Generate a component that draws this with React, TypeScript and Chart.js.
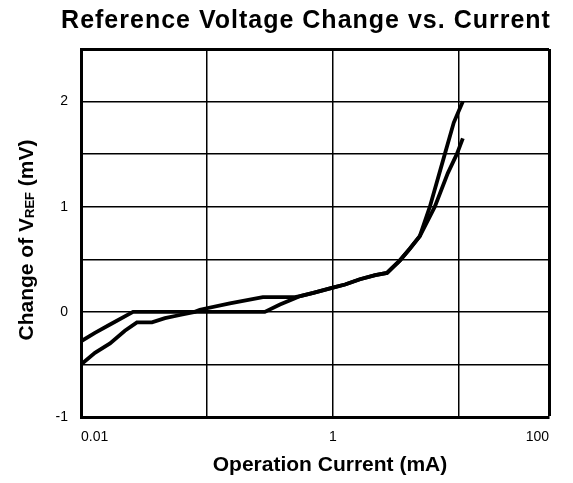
import React, { useEffect, useRef } from 'react';
import { Chart, registerables } from 'chart.js';

Chart.register(...registerables);

const FONT = "'Liberation Sans', Arial, Helvetica, sans-serif";

const chartTitle = 'Reference Voltage Change vs. Current';
const xTitle = 'Operation Current (mA)';
const yTitleMain = 'Change of V';
const yTitleSub = 'REF';
const yTitleUnit = ' (mV)';

// x axis (operation current, mA, log scale)
const xMin = 0.01;
const xMax = 52;
const xTickValues = [0.01, 0.1, 1, 10, 52];
const xTickLabels = ['0.01', '', '1', '', '100'];

// y axis (change of VREF, mV)
const yMin = -1;
const yMax = 2.5;
const yStep = 0.5;
const yTickLabels: Record<string, string> = { '-1': '-1', '0': '0', '1': '1', '2': '2' };

// sweep 1
const currentA = [0.01, 0.0129, 0.017, 0.0259, 0.05, 0.1, 0.2, 0.288, 0.38, 0.5, 0.55, 0.7, 1.0, 1.25, 1.64, 2.17, 2.69, 3.41, 4.08, 4.9, 6.45, 8.18, 9.64, 10.76];
const deltaA = [-0.28, -0.2, -0.12, 0, 0, 0, 0, 0, 0.07, 0.13, 0.15, 0.18, 0.23, 0.26, 0.31, 0.35, 0.37, 0.49, 0.6, 0.72, 1.0, 1.32, 1.5, 1.65];

// sweep 2
const currentB = [0.01, 0.0129, 0.017, 0.0223, 0.0278, 0.0366, 0.0464, 0.0611, 0.0802, 0.0879, 0.152, 0.278, 0.499, 0.55, 0.7, 1.0, 1.25, 1.64, 2.17, 2.69, 3.41, 4.08, 4.9, 5.89, 7.74, 9.12, 10.76];
const deltaB = [-0.5, -0.39, -0.3, -0.18, -0.1, -0.1, -0.06, -0.03, 0, 0.02, 0.08, 0.14, 0.14, 0.15, 0.18, 0.23, 0.26, 0.31, 0.35, 0.37, 0.49, 0.6, 0.72, 1.0, 1.5, 1.8, 2.0];

const toPoints = (xs: number[], ys: number[]) => xs.map((x, i) => ({ x, y: ys[i] }));

const titlesPlugin = {
  id: 'titles',
  afterDraw(chart: any) {
    const { ctx, chartArea } = chart;
    const midX = (chartArea.left + chartArea.right) / 2;

    // main title
    ctx.save();
    ctx.fillStyle = '#000';
    ctx.font = `bold 25px ${FONT}`;
    (ctx as any).letterSpacing = '1px';
    ctx.textAlign = 'center';
    ctx.textBaseline = 'alphabetic';
    ctx.fillText(chartTitle, midX - 9, chartArea.top - 21);
    ctx.restore();

    // x axis title
    ctx.save();
    ctx.fillStyle = '#000';
    ctx.font = `bold 21px ${FONT}`;
    ctx.textAlign = 'center';
    ctx.textBaseline = 'alphabetic';
    ctx.fillText(xTitle, midX + 15, chartArea.bottom + 54);
    ctx.restore();

    // y axis title with subscript
    ctx.save();
    const cy = (chartArea.top + chartArea.bottom) / 2 + 7;
    ctx.translate(25, cy);
    ctx.rotate(-Math.PI / 2);
    ctx.fillStyle = '#000';
    ctx.textBaseline = 'alphabetic';
    ctx.textAlign = 'left';
    const big = `bold 21px ${FONT}`;
    const small = `bold 13px ${FONT}`;
    const parts = [
      { t: yTitleMain, f: big, dy: 0 },
      { t: yTitleSub, f: small, dy: 1 },
      { t: yTitleUnit, f: big, dy: 0 },
    ];
    let total = 0;
    const widths = parts.map((p) => {
      ctx.font = p.f;
      const w = ctx.measureText(p.t).width;
      total += w;
      return w;
    });
    let x = -total / 2;
    parts.forEach((p, i) => {
      ctx.font = p.f;
      ctx.fillText(p.t, x, p.dy);
      x += widths[i];
    });
    ctx.restore();
  },
};

export default function App() {
  const ref = useRef<HTMLCanvasElement>(null);

  useEffect(() => {
    if (!ref.current) return;
    const chart = new Chart(ref.current, {
      type: 'line',
      data: {
        datasets: [
          {
            label: 'Sweep 1',
            data: toPoints(currentA, deltaA),
            borderColor: '#000',
            borderWidth: 3.8,
            pointRadius: 0,
            tension: 0,
            fill: false,
          },
          {
            label: 'Sweep 2',
            data: toPoints(currentB, deltaB),
            borderColor: '#000',
            borderWidth: 3.8,
            pointRadius: 0,
            tension: 0,
            fill: false,
          },
        ],
      },
      options: {
        responsive: false,
        animation: false,
        devicePixelRatio: 1,
        layout: { padding: { left: 0, right: 16, top: 41, bottom: 0 } },
        plugins: {
          legend: { display: false },
          tooltip: { enabled: false },
          title: { display: false },
        },
        scales: {
          x: {
            type: 'logarithmic',
            min: xMin,
            max: xMax,
            afterBuildTicks: (scale: any) => {
              scale.ticks = xTickValues.map((v) => ({ value: v }));
            },
            afterFit: (scale: any) => {
              scale.height = 58;
            },
            ticks: {
              autoSkip: false,
              maxRotation: 0,
              align: 'inner',
              color: '#000',
              padding: 2,
              font: { family: FONT, size: 14 },
              callback: (_v: any, i: number) => xTickLabels[i],
            },
            grid: {
              color: '#000',
              drawTicks: true,
              tickLength: 10,
              tickColor: 'rgba(0,0,0,0)',
              lineWidth: (ctx: any) => (ctx.index === xTickValues.length - 1 ? 3 : 1.5),
            },
            border: { display: true, color: '#000', width: 3 },
            title: { display: false },
          },
          y: {
            type: 'linear',
            min: yMin,
            max: yMax,
            afterFit: (scale: any) => {
              scale.width = 73;
            },
            ticks: {
              stepSize: yStep,
              color: '#000',
              padding: 13,
              font: { family: FONT, size: 14 },
              callback: (v: any) => yTickLabels[String(v)] ?? '',
            },
            grid: {
              color: '#000',
              drawTicks: false,
              lineWidth: (ctx: any) => (ctx.tick && ctx.tick.value === yMax ? 3 : 1.5),
            },
            border: { display: true, color: '#000', width: 3 },
          },
        },
      },
      plugins: [titlesPlugin],
    } as any);
    return () => chart.destroy();
  }, []);

  return (
    <div style={{ width: 557, height: 467 }}>
      <canvas ref={ref} width={557} height={467} style={{ display: 'block' }} />
    </div>
  );
}
